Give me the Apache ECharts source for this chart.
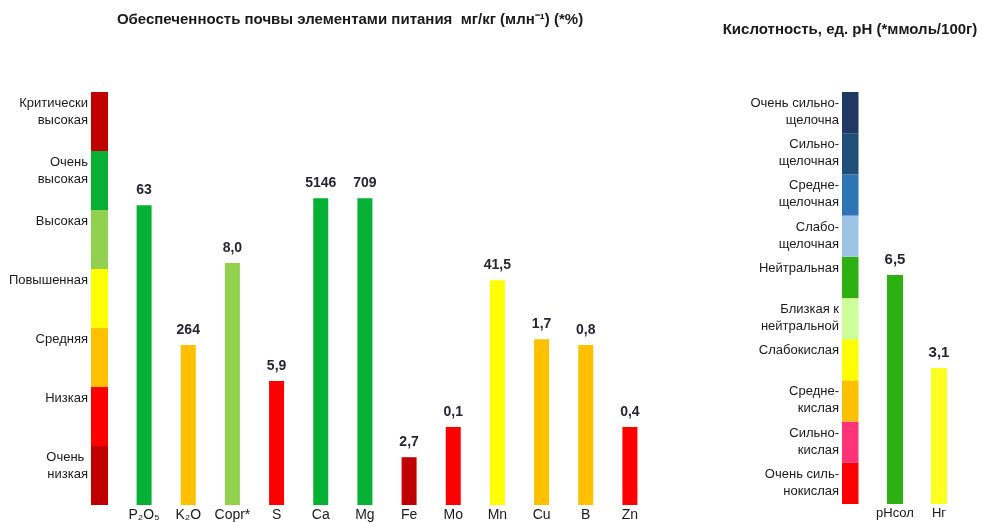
<!DOCTYPE html>
<html><head><meta charset="utf-8">
<script src="https://cdn.jsdelivr.net/npm/echarts@6/dist/echarts.min.js"></script>
<style>html,body{margin:0;padding:0;background:#fff}#c{width:982px;height:523px}</style>
</head><body><div id="c"></div>
<script>
// ---- data ----
const leftScaleLabels = ['Критически\nвысокая','Очень\nвысокая','Высокая','Повышенная','Средняя','Низкая','Очень \nнизкая'];
const leftScaleColors = ['#C00000','#05B035','#92D050','#FFFF00','#FFC000','#FF0000','#C00000'];
const elements = ['P₂O₅','K₂O','Copr*','S','Ca','Mg','Fe','Mo','Mn','Cu','B','Zn'];
const elementLevels = [5.08,2.71,4.1,2.1,5.2,5.2,0.81,1.32,3.81,2.81,2.71,1.32];
const elementValueLabels = ['63','264','8,0','5,9','5146','709','2,7','0,1','41,5','1,7','0,8','0,4'];
const elementColors = ['#05B035','#FFC000','#92D050','#FF0000','#05B035','#05B035','#C00000','#FF0000','#FFFF00','#FFC000','#FFC000','#FF0000'];

const rightScaleLabels = ['Очень сильно-\nщелочна','Сильно-\nщелочная','Средне-\nщелочная','Слабо-\nщелочная','Нейтральная','Близкая к\nнейтральной','Слабокислая','Средне-\nкислая','Сильно-\nкислая','Очень силь-\nнокислая'];
const rightScaleColors = ['#203864','#1F4E79','#2E75B6','#9DC3E6','#2CB012','#CCFF99','#FFFF00','#FFC000','#FF3377','#FF0000'];
const acidCats = ['pHсол','Нг'];
const acidLevels = [5.56,3.3];
const acidValueLabels = ['6,5','3,1'];
const acidColors = ['#2CB012','#FFFF22'];

const titleLeft = 'Обеспеченность почвы элементами питания  мг/кг (млн⁻¹) (*%)';
const titleRight = 'Кислотность, ед. pH (*ммоль/100г)';

// ---- chart ----
const FONT = 'Liberation Sans, Arial, sans-serif';
const chart = echarts.init(document.getElementById('c'));

function scaleSeries(labels, colors, axisIdx) {
  const n = labels.length;
  const out = [];
  for (let i = n - 1; i >= 0; i--) {
    out.push({
      type: 'bar', xAxisIndex: axisIdx, yAxisIndex: axisIdx, stack: 's' + axisIdx,
      barWidth: '100%', data: [1], silent: true,
      itemStyle: { color: colors[i] },
      label: { show: true, position: [-3, 3], align: 'right', verticalAlign: 'top',
        formatter: labels[i], color: '#1a1a1a', fontSize: 13, lineHeight: 17, fontFamily: FONT }
    });
  }
  return out;
}

const series = [];
series.push(...scaleSeries(leftScaleLabels, leftScaleColors, 0));
series.push({
  type: 'bar', xAxisIndex: 1, yAxisIndex: 1, barWidth: 15,
  data: elementLevels.map((v, i) => ({ value: v, itemStyle: { color: elementColors[i] } })),
  label: { show: true, position: 'top', distance: 8, formatter: p => elementValueLabels[p.dataIndex],
    fontWeight: 'bold', fontSize: 14, color: '#262633', fontFamily: FONT }
});
series.push(...scaleSeries(rightScaleLabels, rightScaleColors, 2));
series.push({
  type: 'bar', xAxisIndex: 3, yAxisIndex: 3, barWidth: 16,
  data: acidLevels.map((v, i) => ({ value: v, itemStyle: { color: acidColors[i] } })),
  label: { show: true, position: 'top', distance: 8, formatter: p => acidValueLabels[p.dataIndex],
    fontWeight: 'bold', fontSize: 15, color: '#262633', fontFamily: FONT }
});

const hiddenCat = (gi) => ({ type: 'category', gridIndex: gi, data: [''], show: false });
const hiddenVal = (gi, max) => ({ type: 'value', gridIndex: gi, min: 0, max: max, show: false });
const catAxis = (gi, data, fs) => ({ type: 'category', gridIndex: gi, data: data,
  axisLine: { show: false }, axisTick: { show: false },
  axisLabel: { color: '#1a1a1a', fontSize: fs, margin: 3, fontFamily: FONT, interval: 0 } });

chart.setOption({
  animation: false,
  textStyle: { fontFamily: FONT },
  grid: [
    { left: 91, width: 17, top: 92, height: 413 },
    { left: 122, width: 530, top: 92, height: 413 },
    { left: 842, width: 16.5, top: 92, height: 412 },
    { left: 873, width: 88, top: 92, height: 412 }
  ],
  xAxis: [hiddenCat(0), catAxis(1, elements, 14), hiddenCat(2), catAxis(3, acidCats, 13)],
  yAxis: [hiddenVal(0, 7), hiddenVal(1, 7), hiddenVal(2, 10), hiddenVal(3, 10)],
  series: series,
  graphic: [
    { type: 'text', x: 350, y: 20, style: { text: titleLeft, textAlign: 'center', textVerticalAlign: 'middle',
      font: 'bold 15px ' + FONT, fill: '#1a1a1a' } },
    { type: 'text', x: 850, y: 30, style: { text: titleRight, textAlign: 'center', textVerticalAlign: 'middle',
      font: 'bold 15px ' + FONT, fill: '#1a1a1a' } }
  ]
});
</script></body></html>
